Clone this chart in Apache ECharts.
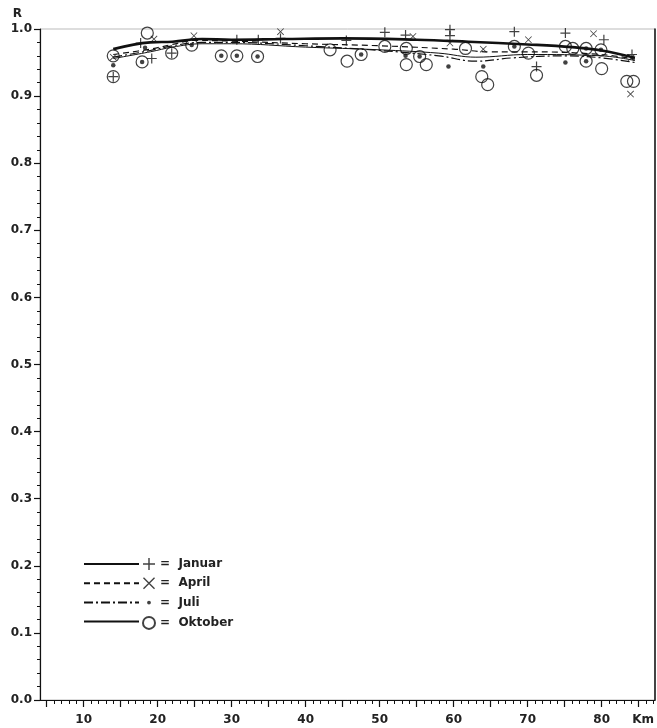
<!DOCTYPE html>
<html><head><meta charset="utf-8">
<script src="https://cdn.jsdelivr.net/npm/echarts@6/dist/echarts.min.js"></script>
<style>html,body{margin:0;padding:0;background:#fff}#c{width:657px;height:728px}</style>
</head><body><div id="c"></div>
<script>
// ---- data (km, R) ----
const januarPts = [[14,0.929],[17.7,0.979],[19.2,0.956],[21.9,0.964],[30.7,0.984],[33.6,0.984],[36.6,0.986],[45.5,0.983],[50.7,0.995],[53.5,0.991],[59.5,0.999],[59.5,0.990],[68.2,0.996],[71.2,0.944],[75.1,0.994],[80.3,0.984],[84.1,0.962]];
const aprilPts = [[14,0.958],[19.5,0.985],[24.9,0.990],[36.6,0.996],[54.5,0.989],[59.5,0.979],[64,0.970],[70.1,0.984],[78.9,0.993],[84,0.957],[83.9,0.903]];
const juliPts = [[14,0.946],[18.3,0.972],[17.9,0.951],[24.6,0.976],[28.6,0.960],[30.7,0.960],[33.5,0.959],[47.5,0.962],[53.5,0.960],[55.4,0.959],[59.3,0.944],[64,0.944],[68.2,0.974],[75.1,0.950],[77.9,0.971],[79.9,0.969],[77.9,0.952]];
const oktoberPts = [[14,0.960],[14,0.929],[18.6,0.994],[17.9,0.951],[21.9,0.964],[24.6,0.976],[28.6,0.960],[30.7,0.960],[33.5,0.959],[43.3,0.969],[45.6,0.952],[47.5,0.962],[50.7,0.974],[53.6,0.971],[53.6,0.947],[55.4,0.959],[56.3,0.947],[61.6,0.971],[63.8,0.929],[64.6,0.917],[68.2,0.974],[70.1,0.964],[71.2,0.931],[75.1,0.974],[76.1,0.971],[77.9,0.971],[79.9,0.969],[77.9,0.952],[80,0.941],[83.4,0.922],[84.3,0.922]];

const januarCurve = [[14,0.970],[19,0.980],[22,0.981],[26,0.985],[30,0.984],[37,0.985],[45,0.986],[55,0.984],[62,0.981],[70,0.977],[76,0.973],[80,0.968],[84.5,0.957]];
const aprilCurve = [[14,0.962],[19,0.970],[22,0.977],[25,0.983],[30,0.982],[40,0.978],[50,0.975],[60,0.970],[65,0.966],[70,0.966],[80,0.962],[84.5,0.955]];
const juliCurve = [[14,0.958],[19,0.968],[22,0.975],[26,0.980],[30,0.980],[40,0.975],[50,0.968],[58,0.960],[63,0.952],[68,0.957],[75,0.960],[80,0.957],[84.5,0.950]];
const oktoberCurve = [[14,0.956],[19,0.966],[22,0.973],[26,0.978],[30,0.978],[40,0.973],[50,0.969],[58,0.964],[63,0.958],[70,0.962],[80,0.960],[84.5,0.953]];

const seriesNames = ['Januar','April','Juli','Oktober'];
const xLabelValues = [10,20,30,40,50,60,70,80];
const xUnitPos = 85.6;
const xUnit = 'Km';
const yTickValues = [0,0.1,0.2,0.3,0.4,0.5,0.6,0.7,0.8,0.9,1.0];

// ---- chart ----
const minorX = []; for (let k = 5; k <= 87; k++) minorX.push(k);
const majorX = []; for (let k = 5; k <= 85; k += 5) majorX.push(k);
const FONT = 'DejaVu Sans';
const plusPath = 'path://M0,4.4H10V5.6H0Z M4.4,0H5.6V10H4.4Z';
const crossPath = 'path://M0,0.8L0.8,0L10,9.2L9.2,10Z M9.2,0L10,0.8L0.8,10L0,9.2Z';
const smallDotLegend = 'path://M5,3.4A1.6,1.6 0 1,1 4.99,3.4Z M0,0L0,0 M10,10L10,10';

const chart = echarts.init(document.getElementById('c'), null, {renderer:'canvas'});
const lineStyles = [
  {width:2.6, type:'solid'},
  {width:1.2, type:[6,4]},
  {width:1.2, type:[9,3,2,3]},
  {width:1.0, type:'solid'}
];
const curves = [januarCurve, aprilCurve, juliCurve, oktoberCurve];
const pts = [januarPts, aprilPts, juliPts, oktoberPts];
const symbols = [
  {symbol: plusPath, symbolSize: 10, itemStyle:{color:'#111'}},
  {symbol: crossPath, symbolSize: 7, itemStyle:{color:'#111'}},
  {symbol: 'circle', symbolSize: 4.5, itemStyle:{color:'#111'}},
  {symbol: 'circle', symbolSize: 12, itemStyle:{color:'rgba(0,0,0,0)', borderColor:'#111', borderWidth:1.2}}
];

const series = [];
seriesNames.forEach((n,i)=>{
  series.push({
    name: n + ' ', type:'line', data: curves[i], smooth: 0.4, symbol:'none',
    itemStyle:{color:'#111'},
    lineStyle: Object.assign({color:'#111'}, lineStyles[i]), z: 2, silent:true
  });
});
[3,0,1,2].forEach(i=>{
  series.push(Object.assign({
    name: seriesNames[i], type:'scatter', data: pts[i], z: 3 + i, silent:true
  }, symbols[i]));
});

chart.setOption({
  animation:false,
  backgroundColor:'#fff',
  grid:{left:40, right:2, top:29, bottom:28, show:true, borderColor:'#bbb', borderWidth:1},
  legend:[
    {data: seriesNames.map(n=>({name:n+' ', icon:'inherit'})), orient:'vertical', left:83, top:557, padding:0,
     itemWidth:55, itemHeight:14, itemGap:6.6,
     itemStyle:{opacity:0},
     formatter: ()=>'', selectedMode:false, textStyle:{fontSize:1}},
    {data: [{name:'Januar'},{name:'April'},{name:'Juli', icon: smallDotLegend},{name:'Oktober'}],
     orient:'vertical', left:142, top:558, padding:0, itemWidth:12, itemHeight:12, itemGap:7.3,
     formatter: n=>'=  ' + n, selectedMode:false,
     textStyle:{fontFamily:FONT, fontSize:12, fontWeight:'bold', color:'#222'}}
  ],
  xAxis:[
    {type:'value', min:4.1, max:87.2, position:'bottom',
     axisLine:{show:true, onZero:false, lineStyle:{color:'#111', width:1.2}},
     axisTick:{show:true, customValues: minorX, length:4, lineStyle:{color:'#111', width:1}},
     axisLabel:{show:true, customValues: xLabelValues.concat([xUnitPos]), margin:14,
       formatter: v => (Math.abs(v - xUnitPos) < 0.01 ? xUnit : String(v)),
       fontFamily:FONT, fontSize:12, fontWeight:'bold', color:'#222'},
     splitLine:{show:false}},
    {type:'value', min:4.1, max:87.2, position:'bottom',
     axisLine:{show:false},
     axisTick:{show:true, customValues: majorX, length:7, lineStyle:{color:'#111', width:1.2}},
     axisLabel:{show:false}, splitLine:{show:false}}
  ],
  yAxis:[
    {type:'value', min:0, max:1, interval:0.1, name:'R', nameLocation:'end', nameGap:9,
     nameTextStyle:{fontFamily:FONT, fontSize:12, fontWeight:'bold', color:'#222', align:'right', padding:[0,18,0,0]},
     axisLine:{show:true, lineStyle:{color:'#111', width:1.2}},
     axisTick:{show:true, length:6, lineStyle:{color:'#111', width:1.2}},
     minorTick:{show:true, splitNumber:5, length:3, lineStyle:{color:'#111', width:1}},
     axisLabel:{margin:8, formatter: v => yTickValues.includes(Math.round(v*10)/10) ? v.toFixed(1) : '',
       fontFamily:FONT, fontSize:12, fontWeight:'bold', color:'#222'},
     splitLine:{show:false}},
    {type:'value', min:0, max:1, position:'right',
     axisLine:{show:true, lineStyle:{color:'#111', width:1.5}},
     axisTick:{show:false}, axisLabel:{show:false}, splitLine:{show:false}}
  ],
  series: series
});
</script></body></html>
